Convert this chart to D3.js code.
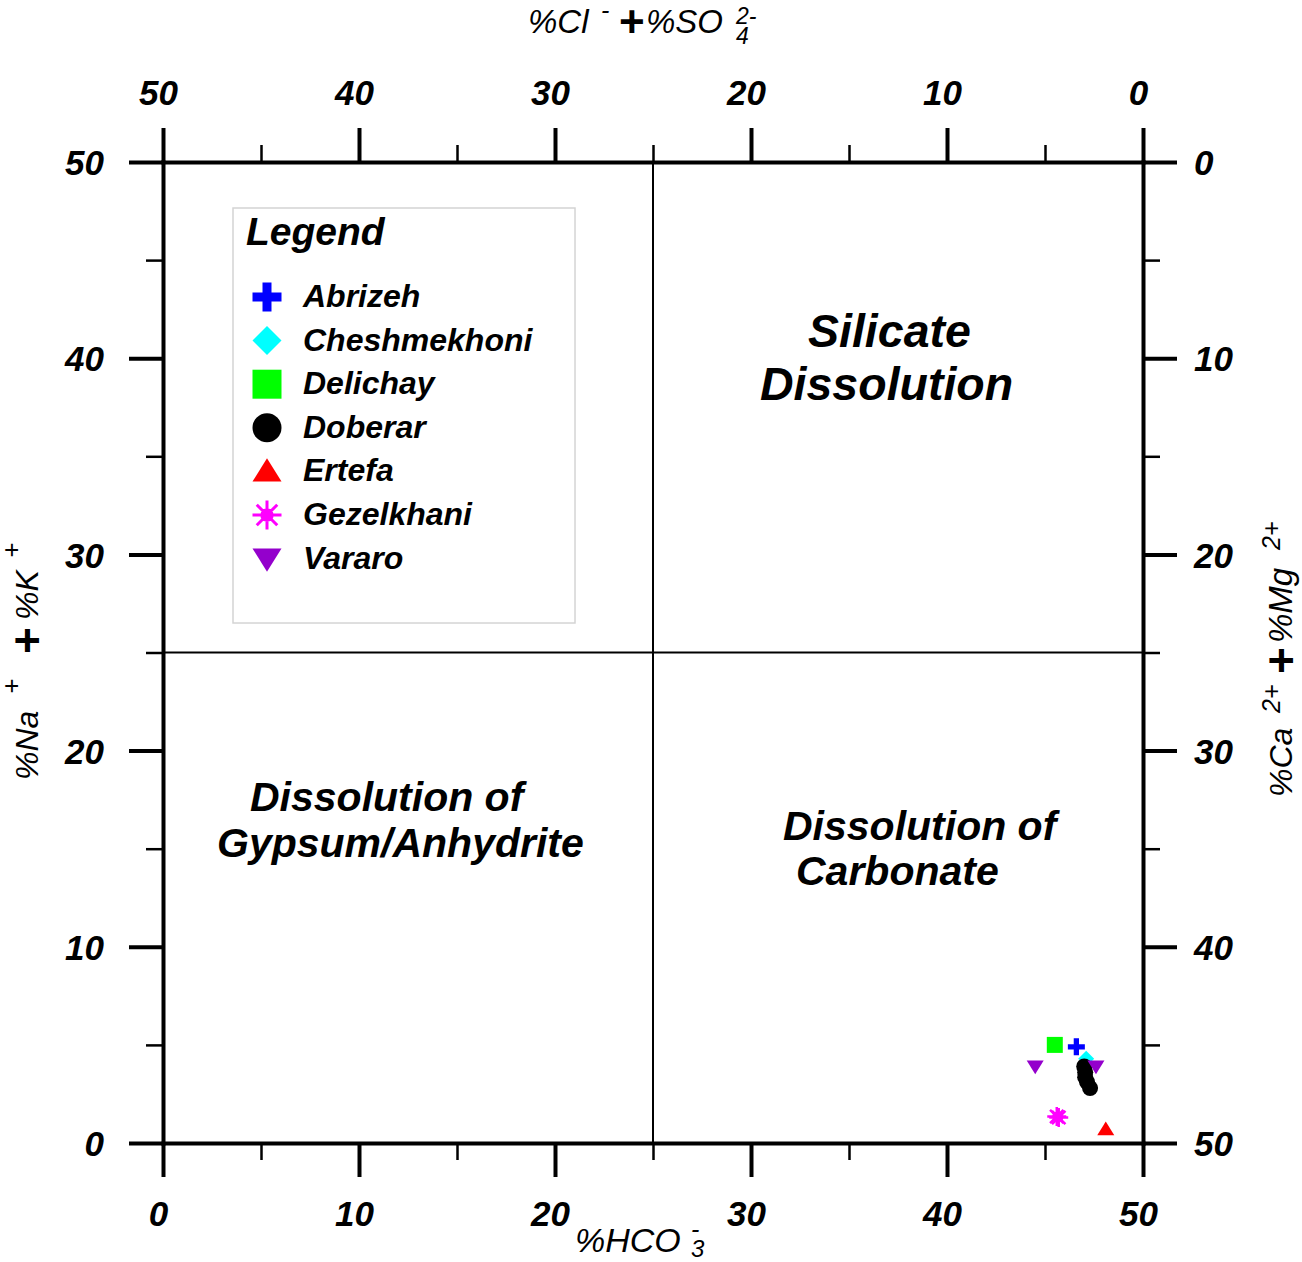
<!DOCTYPE html>
<html><head><meta charset="utf-8">
<script src="https://cdn.jsdelivr.net/npm/d3@7"></script>
<style>
body{margin:0;background:#fff}
svg text{font-family:"Liberation Sans",Arial,sans-serif}
.tick text{font-weight:bold;font-style:italic;font-size:35px;fill:#000}
</style></head><body>
<svg id="chart" width="1302" height="1262"></svg>
<script>
// sites, in legend order
const sites = ["Abrizeh","Cheshmekhoni","Delichay","Doberar","Ertefa","Gezelkhani","Vararo"];
const colors = ["#0000ff","#00ffff","#00ff00","#000000","#ff0000","#ff00ff","#9400cc"];
const shapes = ["plus","diamond","square","circle","triUp","star","triDown"];
// [%HCO3-, %Na+ + %K+]
const abrizeh = [[46.6, 4.9]];
const cheshmekhoni = [[47.1, 4.3]];
const delichay = [[45.5, 5.0]];
const doberar = [[47.0, 3.9], [47.05, 3.6], [47.05, 3.35], [47.15, 3.1], [47.3, 2.8]];
const ertefa = [[48.1, 0.7]];
const gezelkhani = [[45.6, 1.35], [45.7, 1.3]];
const vararo = [[44.5, 3.9], [47.6, 3.9]];
const seriesValues = [abrizeh, cheshmekhoni, delichay, doberar, ertefa, gezelkhani, vararo];
const majorTicks = [0, 10, 20, 30, 40, 50];
const minorTicks = [5, 15, 25, 35, 45];

const svg = d3.select("#chart");
const x = d3.scaleLinear().domain([0, 50]).range([163, 1143]);
const y = d3.scaleLinear().domain([0, 50]).range([1143, 162]);
const xTop = d3.scaleLinear().domain([50, 0]).range([163, 1143]);
const yRight = d3.scaleLinear().domain([0, 50]).range([162, 1143]);

// custom marker shapes, size = full width squared
const symbolTypes = {
  plus: {draw(c, s) { const h = Math.sqrt(s)/2, t = h*0.31;
    c.moveTo(-h,-t); c.lineTo(-t,-t); c.lineTo(-t,-h); c.lineTo(t,-h); c.lineTo(t,-t); c.lineTo(h,-t);
    c.lineTo(h,t); c.lineTo(t,t); c.lineTo(t,h); c.lineTo(-t,h); c.lineTo(-t,t); c.lineTo(-h,t); c.closePath(); }},
  diamond: {draw(c, s) { const h = Math.sqrt(s)/2; c.moveTo(0,-h); c.lineTo(h,0); c.lineTo(0,h); c.lineTo(-h,0); c.closePath(); }},
  square: {draw(c, s) { const h = Math.sqrt(s)/2; c.rect(-h, -h, 2*h, 2*h); }},
  circle: {draw(c, s) { const h = Math.sqrt(s)/2; c.moveTo(h, 0); c.arc(0, 0, h, 0, 2*Math.PI); }},
  triUp: {draw(c, s) { const w = Math.sqrt(s); c.moveTo(0,-0.45*w); c.lineTo(0.5*w,0.35*w); c.lineTo(-0.5*w,0.35*w); c.closePath(); }},
  triDown: {draw(c, s) { const w = Math.sqrt(s); c.moveTo(0,0.45*w); c.lineTo(0.5*w,-0.35*w); c.lineTo(-0.5*w,-0.35*w); c.closePath(); }},
  star: {draw(c, s) { const h = Math.sqrt(s)/2;
    for (let i=0; i<4; i++) { const a = i*Math.PI/4; c.moveTo(-h*Math.cos(a), -h*Math.sin(a)); c.lineTo(h*Math.cos(a), h*Math.sin(a)); }
    const r = h*0.36; c.moveTo(r, 0); c.arc(0, 0, r, 0, 2*Math.PI); }}
};
const markerWidth = {plus:17, diamond:16, square:16, circle:16, triUp:17, triDown:17, star:19};

// quadrant dividers
svg.append("line").attr("x1", x(25)).attr("x2", x(25)).attr("y1", y(0)).attr("y2", y(50)).attr("stroke", "#000").attr("stroke-width", 2);
svg.append("line").attr("x1", x(0)).attr("x2", x(50)).attr("y1", y(25)).attr("y2", y(25)).attr("stroke", "#000").attr("stroke-width", 2);

// axes: minor then major on each side
function drawAxis(axisFn, scale, transform, pad, fix) {
  svg.append("g").attr("transform", transform)
    .call(axisFn(scale).tickValues(minorTicks).tickFormat("").tickSize(17).tickSizeOuter(0))
    .call(g => g.select(".domain").remove())
    .call(g => g.selectAll(".tick line").attr("stroke-width", 2.5));
  const g = svg.append("g").attr("transform", transform)
    .call(axisFn(scale).tickValues(majorTicks).tickSize(34).tickSizeOuter(0).tickPadding(pad));
  g.select(".domain").attr("stroke-width", 4).attr("stroke-linecap", "square");
  g.selectAll(".tick line").attr("stroke-width", 4);
  g.attr("font-family", null).attr("font-size", null);
  fix(g.selectAll(".tick text"));
}
drawAxis(d3.axisBottom, x, `translate(0,${y(0)})`, 24, t => t.attr("dx", -5));
drawAxis(d3.axisTop, xTop, `translate(0,${y(50)})`, 23, t => t.attr("dx", -5));
drawAxis(d3.axisLeft, y, `translate(${x(0)},0)`, 25, t => t.attr("dy", "0.36em"));
drawAxis(d3.axisRight, yRight, `translate(${x(50)},0)`, 17, t => t.attr("dy", "0.36em"));

// quadrant labels
const quadLabels = [
  {t:"Silicate", x:808, y:347, size:46.5},
  {t:"Dissolution", x:760, y:400, size:46.5},
  {t:"Dissolution of", x:250, y:811, size:41},
  {t:"Gypsum/Anhydrite", x:217, y:857, size:41},
  {t:"Dissolution of", x:783, y:840, size:41},
  {t:"Carbonate", x:796, y:885, size:41}
];
svg.append("g").selectAll("text").data(quadLabels).join("text")
  .attr("x", d => d.x).attr("y", d => d.y).style("font-size", d => d.size + "px")
  .style("font-weight", "bold").style("font-style", "italic").text(d => d.t);

// data points
const sym = d3.symbol();
svg.append("g").selectAll("g").data(seriesValues).join("g")
  .attr("fill", (d, i) => colors[i]).attr("stroke", (d, i) => shapes[i] === "star" ? colors[i] : "none")
  .attr("stroke-width", 2.5)
  .each(function(vals, i) {
    d3.select(this).selectAll("path").data(vals).join("path")
      .attr("transform", d => `translate(${x(d[0])},${y(d[1])})`)
      .attr("d", sym.type(symbolTypes[shapes[i]]).size(markerWidth[shapes[i]] ** 2)());
  });

// legend
const legend = svg.append("g");
legend.append("rect").attr("x", 233).attr("y", 208).attr("width", 342).attr("height", 415)
  .attr("fill", "#fff").attr("stroke", "#d4d4d4").attr("stroke-width", 1.5);
legend.append("text").attr("x", 246).attr("y", 245).style("font-size", "39px")
  .style("font-weight", "bold").style("font-style", "italic").text("Legend");
const rows = legend.selectAll("g.row").data(sites).join("g").attr("class", "row")
  .attr("transform", (d, i) => `translate(0,${297 + i*43.6})`);
rows.append("path").attr("transform", "translate(267,0)")
  .attr("fill", (d, i) => colors[i]).attr("stroke", (d, i) => shapes[i] === "star" ? colors[i] : "none").attr("stroke-width", 3)
  .attr("d", (d, i) => d3.symbol().type(symbolTypes[shapes[i]]).size(29*29)());
rows.append("text").attr("x", 303).attr("y", 10).style("font-size", "32px")
  .style("font-weight", "bold").style("font-style", "italic").text(d => d);

// axis titles built from pieces (super/subscripts)
function title(transform, pieces) {
  svg.append("g").attr("transform", transform).selectAll("text").data(pieces).join("text")
    .attr("x", d => d.x).attr("y", d => d.y || 0).style("font-size", d => d.size + "px")
    .style("font-style", d => d.bold ? "normal" : "italic").style("font-weight", d => d.bold ? "900" : "normal")
    .text(d => d.t);
}
title("translate(575,1252)", [
  {t:"%HCO", x:0, size:34}, {t:"-", x:116, y:-14, size:25}, {t:"3", x:116, y:5, size:24}
]);
title("translate(528,33)", [
  {t:"%Cl", x:0, size:33}, {t:"-", x:73, y:-14, size:25}, {t:"+", x:91, y:4, size:44, bold:true},
  {t:"%SO", x:118, size:33}, {t:"2-", x:208, y:-9, size:23}, {t:"4", x:208, y:11, size:23}
]);
title("translate(38,780) rotate(-90)", [
  {t:"%Na", x:0, size:32}, {t:"+", x:86, y:-18, size:26}, {t:"+", x:126, y:5, size:46, bold:true},
  {t:"%K", x:160, size:32}, {t:"+", x:222, y:-18, size:26}
]);
title("translate(1292,797) rotate(-90)", [
  {t:"%Ca", x:0, size:32}, {t:"2+", x:84, y:-12, size:25}, {t:"+", x:123, y:5, size:46, bold:true},
  {t:"%Mg", x:154, size:33}, {t:"2+", x:247, y:-12, size:25}
]);
</script>
</body></html>
